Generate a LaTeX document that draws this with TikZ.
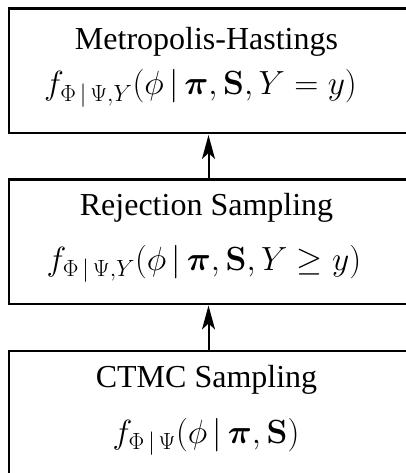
\RequirePackage{fix-cm}
\documentclass[tikz,border=0pt]{standalone}
\usepackage{amsmath,amssymb}
\usepackage[no-math]{fontspec}
\setmainfont{Liberation Serif}
\usetikzlibrary{arrows.meta}
\begin{document}
\begin{tikzpicture}[x=1pt,y=1pt,
  stagebox/.style={draw=black, line width=2.5pt, rectangle, minimum width=399.5pt, minimum height=124.5pt, inner sep=0pt, anchor=north west},
  lbl/.style={anchor=base, inner sep=0pt, font=\fontsize{32}{38}\selectfont},
  mathlbl/.style={anchor=base, inner sep=0pt, font=\fontsize{33.5}{40}\selectfont},
  uparrow/.style={line width=2pt, -{Stealth[length=24pt, width=13pt, inset=6pt]}, shorten >=0.5pt}
]
\useasboundingbox (0,0) rectangle (405,-473);
\node[stagebox] (mh) at (7.5,-7.5) {};
\node[stagebox] (rs) at (7.5,-178) {};
\node[stagebox] (ct) at (7.5,-349.5) {};
\node[lbl] (mht) at (206.5,-50) {Metropolis-Hastings};
\node[mathlbl] (mhm) at (200.5,-95) {$f_{\Phi\,|\,\Psi,Y}(\phi\,|\,\boldsymbol{\pi},\mathbf{S},Y=y)$};
\node[lbl] (rst) at (206.5,-215) {Rejection Sampling};
\node[mathlbl] (rsm) at (204,-270) {$f_{\Phi\,|\,\Psi,Y}(\phi\,|\,\boldsymbol{\pi},\mathbf{S},Y\geq y)$};
\node[lbl] (ctt) at (206.5,-387) {CTMC Sampling};
\node[mathlbl] (ctm) at (206,-443) {$f_{\Phi\,|\,\Psi}(\phi\,|\,\boldsymbol{\pi},\mathbf{S})$};
\draw[uparrow] (rs.north) -- (mh.south);
\draw[uparrow] (ct.north) -- (rs.south);
\end{tikzpicture}
\end{document}
